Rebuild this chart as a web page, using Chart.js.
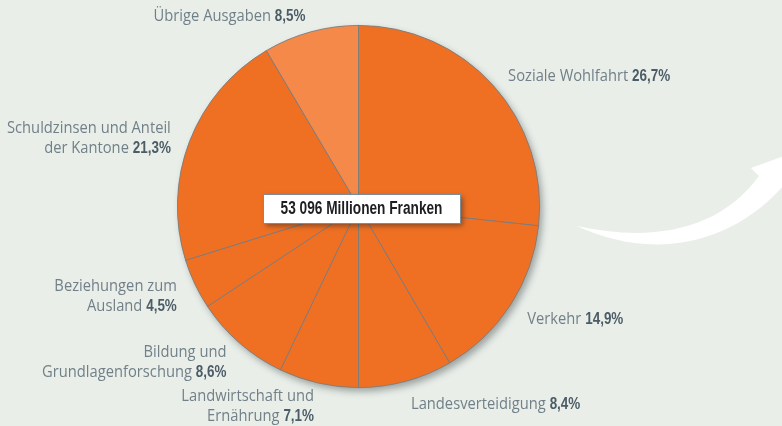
<!DOCTYPE html>
<html>
<head>
<meta charset="utf-8">
<script src="https://cdn.jsdelivr.net/npm/chart.js@4"></script>
<style>
  html, body { margin: 0; padding: 0; background: #e9eee9; }
  #wrap { width: 782px; height: 426px; }
</style>
</head>
<body>
<div id="wrap"><canvas id="c" width="782" height="426"></canvas></div>
<script>
// ---- Data ----
const categories = [
  ['Soziale Wohlfahrt'],
  ['Verkehr'],
  ['Landesverteidigung'],
  ['Landwirtschaft und', 'Ernährung'],
  ['Bildung und', 'Grundlagenforschung'],
  ['Beziehungen zum', 'Ausland'],
  ['Schuldzinsen und Anteil', 'der Kantone'],
  ['Übrige Ausgaben']
];
const shares = [26.7, 14.9, 8.4, 7.1, 8.6, 4.5, 21.3, 8.5];
const totalLabel = '53 096 Millionen Franken';

// ---- Styles ----
const ORANGE = '#f07023';
const LIGHT_ORANGE = '#f5894a';
const sliceColors = shares.map((_, i) => i === shares.length - 1 ? LIGHT_ORANGE : ORANGE);
const fmt = v => v.toFixed(1).replace('.', ',') + '%';

const NORMAL_FONT = '15.5px "Open Sans", "Liberation Sans", sans-serif';
const NORMAL_SX = 0.95;
const BOLD_FONT = 'bold 16px "Liberation Sans", sans-serif';
const BOLD_SX = 0.84;
const BOX_FONT = 'bold 18px "Liberation Sans", sans-serif';
const BOX_SX = 0.76;

function measure(ctx, font, sx, txt) {
  ctx.font = font;
  return ctx.measureText(txt).width * sx;
}
function drawScaled(ctx, font, sx, txt, x, y) {
  ctx.save();
  ctx.font = font;
  ctx.translate(x, y);
  ctx.scale(sx, 1);
  ctx.fillText(txt, 0, 0);
  ctx.restore();
}

const bgPlugin = {
  id: 'bg',
  beforeDraw(chart) {
    const ctx = chart.ctx;
    ctx.save();
    ctx.fillStyle = '#e9eee9';
    ctx.fillRect(0, 0, chart.width, chart.height);
    // decorative white swoosh arrow
    const W = chart.width;
    ctx.fillStyle = '#ffffff';
    ctx.beginPath();
    ctx.moveTo(577, 226);
    ctx.bezierCurveTo(645, 258, 730, 252, W + 8, 178);
    ctx.lineTo(W + 8, 154);
    ctx.lineTo(751, 168);
    ctx.lineTo(759, 176);
    ctx.bezierCurveTo(718, 232, 650, 242, 577, 226);
    ctx.closePath();
    ctx.fill();
    ctx.restore();
  }
};

const shadowPlugin = {
  id: 'pieShadow',
  beforeDatasetsDraw(chart) {
    const arc = chart.getDatasetMeta(0).data[0];
    if (!arc) return;
    const ctx = chart.ctx;
    ctx.save();
    ctx.shadowColor = 'rgba(60,70,70,0.45)';
    ctx.shadowBlur = 7;
    ctx.shadowOffsetX = 3;
    ctx.shadowOffsetY = 4;
    ctx.fillStyle = ORANGE;
    ctx.beginPath();
    ctx.arc(arc.x, arc.y, arc.outerRadius, 0, Math.PI * 2);
    ctx.fill();
    ctx.restore();
  }
};

const labelPlugin = {
  id: 'sliceLabels',
  afterDraw(chart) {
    const ctx = chart.ctx;
    const meta = chart.getDatasetMeta(0);
    const lineH = 20;
    ctx.save();
    ctx.textBaseline = 'middle';
    ctx.textAlign = 'left';
    meta.data.forEach((arc, i) => {
      const mid = (arc.startAngle + arc.endAngle) / 2;
      const dx = Math.cos(mid), dy = Math.sin(mid);
      const R = arc.outerRadius + 20;
      const ax = arc.x + R * dx, ay = arc.y + R * dy + 4;
      const lines = categories[i];
      const n = lines.length;
      lines.forEach((line, j) => {
        const y = ay + (j - (n - 1) / 2) * lineH;
        const isLast = j === n - 1;
        const txt = isLast ? line + ' ' : line;
        const pct = fmt(shares[i]);
        const w1 = measure(ctx, NORMAL_FONT, NORMAL_SX, txt);
        const w2 = isLast ? measure(ctx, BOLD_FONT, BOLD_SX, pct) : 0;
        const total = w1 + w2;
        const x0 = dx >= 0 ? ax : ax - total;
        ctx.fillStyle = '#717f88';
        drawScaled(ctx, NORMAL_FONT, NORMAL_SX, txt, x0, y);
        if (isLast) {
          ctx.fillStyle = '#4b5c67';
          drawScaled(ctx, BOLD_FONT, BOLD_SX, pct, x0 + w1, y);
        }
      });
    });
    // center total box
    const a0 = meta.data[0];
    const cx = a0.x + 3, cy = a0.y + 2;
    const bw = 197, bh = 29;
    ctx.save();
    ctx.shadowColor = 'rgba(40,40,40,0.5)';
    ctx.shadowBlur = 5;
    ctx.shadowOffsetX = 3;
    ctx.shadowOffsetY = 3;
    ctx.fillStyle = '#ffffff';
    ctx.fillRect(cx - bw / 2, cy - bh / 2, bw, bh);
    ctx.restore();
    ctx.strokeStyle = '#7d8c96';
    ctx.lineWidth = 1;
    ctx.strokeRect(Math.round(cx - bw / 2) + 0.5, Math.round(cy - bh / 2) + 0.5, bw, bh);
    ctx.fillStyle = '#1e1e22';
    const tw = measure(ctx, BOX_FONT, BOX_SX, totalLabel);
    drawScaled(ctx, BOX_FONT, BOX_SX, totalLabel, cx - tw / 2, cy + 1);
    ctx.restore();
  }
};

new Chart(document.getElementById('c'), {
  type: 'pie',
  data: {
    labels: categories.map(c => c.join(' ')),
    datasets: [{
      data: shares,
      backgroundColor: sliceColors,
      borderColor: '#6f7d88',
      borderWidth: 0.8
    }]
  },
  options: {
    responsive: false,
    animation: false,
    events: [],
    layout: { padding: { top: 25, bottom: 38, left: 177, right: 242 } },
    plugins: { legend: { display: false }, tooltip: { enabled: false } }
  },
  plugins: [bgPlugin, shadowPlugin, labelPlugin]
});
</script>
</body>
</html>
